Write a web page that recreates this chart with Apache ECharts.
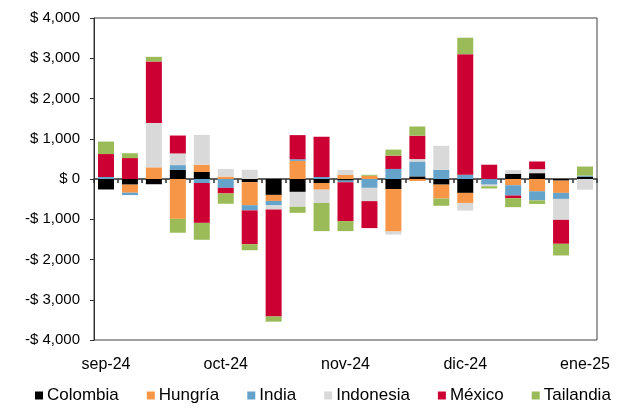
<!DOCTYPE html>
<html>
<head>
<meta charset="utf-8">
<script src="https://cdn.jsdelivr.net/npm/echarts@6/dist/echarts.min.js"></script>
<style>
  html, body { margin: 0; padding: 0; background: #ffffff; }
  #chart { width: 622px; height: 411px; }
</style>
</head>
<body>
<div id="chart"></div>
<script>
// Weekly flows, one bar per week; month names mark the first week of each month
const weekLabels = [
  'sep-24', '', '', '', '',
  'oct-24', '', '', '', '',
  'nov-24', '', '', '', '',
  'dic-24', '', '', '', '',
  'ene-25'
];

const colombia  = [-260, -140, -130,  225,  175,    0,  -80, -395, -320, -100,  -40,    0, -250,   65, -140, -345,    0,  130,  145,  -40,   60];
const hungria   = [   0, -200,  290, -990,  180,   60, -570, -150,  450, -165,  100,   80,-1055,  -50, -345, -250,    0, -155, -305, -305,    0];
const india     = [  50,  -60,    0,  120, -100, -220, -130, -110,   40,   50,  -40, -220,  250,  370,  230,  105, -140, -255, -225, -150,   25];
const indonesia = [   0,    0, 1100,  290,  740,  190,  230, -100, -370, -330,  125, -330,  -75,   60,  595, -190,  -40,   90,  100, -520, -265];
const mexico    = [ 570,  520, 1530,  445, -990, -140, -840,-2660,  600, 1000, -965, -670,  330,  580,    0, 2995,  355,  -65,  190, -595,    0];
const tailandia = [ 310,  120,  115, -345, -420, -255, -150, -130, -150, -700, -250,   25,  150,  230, -180,  410,  -55, -225,  -90, -290,  225];

const seriesNames  = ['Colombia', 'Hungría', 'India', 'Indonesia', 'México', 'Tailandia'];
const seriesValues = [colombia, hungria, india, indonesia, mexico, tailandia];
const seriesColors = ['#000000', '#F79646', '#65A3CA', '#D9D9D9', '#CC0033', '#9BBB59'];

const FONT = '"Liberation Sans", Arial, sans-serif';

function money(v) {
  const s = Math.abs(v).toLocaleString('en-US');
  return (v < 0 ? '-$ ' : '$ ') + s;
}

const chart = echarts.init(document.getElementById('chart'), null, { renderer: 'canvas' });

chart.setOption({
  animation: false,
  backgroundColor: '#ffffff',
  textStyle: { fontFamily: FONT },
  grid: {
    left: 94, right: 25, top: 18, bottom: 71,
    show: true, borderColor: '#404040', borderWidth: 1, backgroundColor: 'transparent'
  },
  legend: {
    bottom: 2,
    left: 30,
    icon: 'rect',
    itemWidth: 8,
    itemHeight: 8,
    itemGap: 28,
    textStyle: { fontFamily: FONT, fontSize: 17, color: '#000000', padding: [0, 0, 0, -1] },
    data: seriesNames
  },
  xAxis: [
    {
      // zero line with week separators
      type: 'category',
      data: weekLabels,
      boundaryGap: true,
      axisLine: { onZero: true, lineStyle: { color: '#303030', width: 1.5 } },
      axisTick: { show: true, interval: 0, length: 4, lineStyle: { color: '#303030', width: 1.5 } },
      axisLabel: { show: false },
      splitLine: { show: false }
    },
    {
      // month labels along the bottom edge
      type: 'category',
      data: weekLabels,
      position: 'bottom',
      boundaryGap: true,
      axisLine: { show: false, onZero: false },
      axisTick: { show: false },
      axisLabel: {
        show: true, interval: 0, margin: 17,
        fontFamily: FONT, fontSize: 16, color: '#000000'
      },
      splitLine: { show: false }
    }
  ],
  yAxis: {
    type: 'value',
    min: -4000,
    max: 4000,
    interval: 1000,
    axisLine: { show: true, lineStyle: { color: '#303030', width: 1 } },
    axisTick: { show: true, length: 4, lineStyle: { color: '#303030' } },
    axisLabel: {
      margin: 14, fontFamily: FONT, fontSize: 15, color: '#000000',
      formatter: money
    },
    splitLine: { show: false }
  },
  series: seriesNames.map((name, i) => ({
    name: name,
    type: 'bar',
    stack: 'flujos',
    xAxisIndex: 0,
    barWidth: 16,
    itemStyle: { color: seriesColors[i] },
    data: seriesValues[i]
  }))
});
</script>
</body>
</html>
